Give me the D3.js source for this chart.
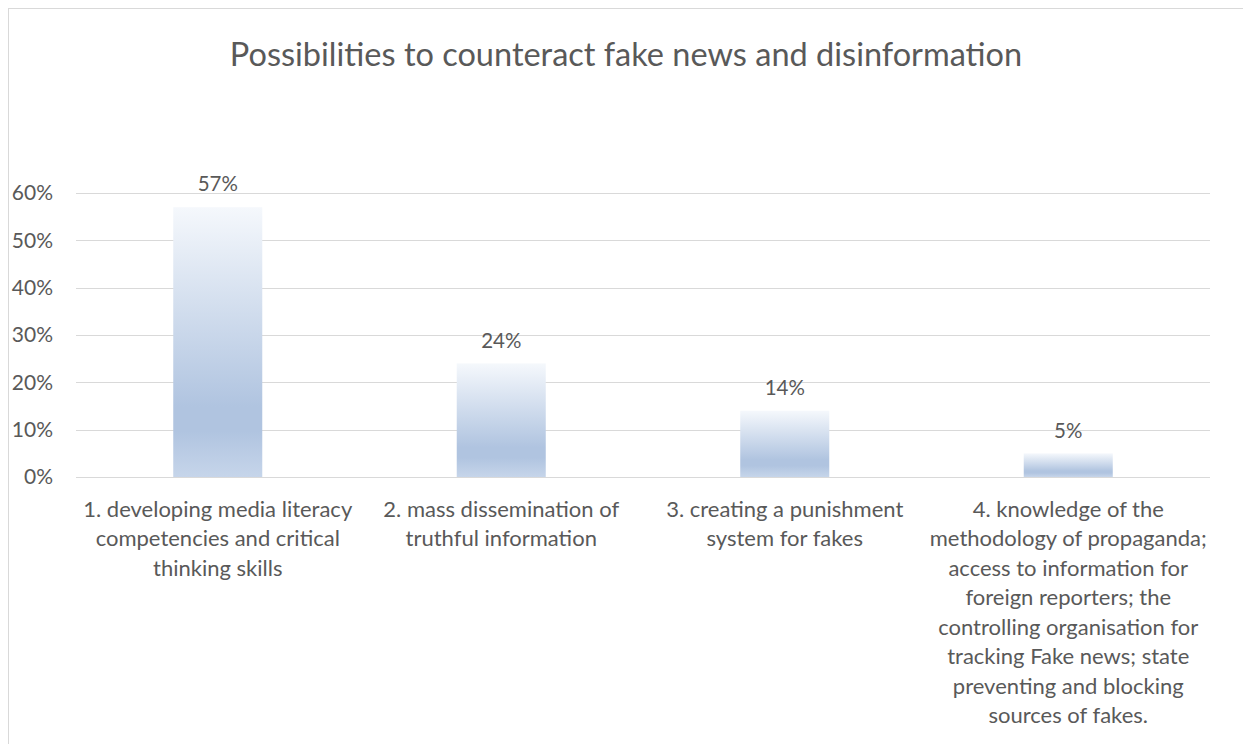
<!DOCTYPE html>
<html>
<head>
<meta charset="utf-8">
<script src="https://cdn.jsdelivr.net/npm/d3@7"></script>
<style>
  html, body { margin: 0; padding: 0; background: #fff; }
  svg { display: block; }
  text { font-family: Lato, "Open Sans", sans-serif; fill: #595959; }
</style>
</head>
<body>
<svg id="chart" width="1243" height="744"></svg>
<script>
// Survey answers, one bar per option
const categories = [
  ["1. developing media literacy", "competencies and critical", "thinking skills"],
  ["2. mass dissemination of", "truthful information"],
  ["3. creating a punishment", "system for fakes"],
  ["4. knowledge of the", "methodology of propaganda;", "access to information for",
   "foreign reporters; the", "controlling organisation for",
   "tracking Fake news; state", "preventing and blocking", "sources of fakes."]
];
const shares = [0.57, 0.24, 0.14, 0.05];
const yTicks = [0, 0.1, 0.2, 0.3, 0.4, 0.5, 0.6];
const title = "Possibilities to counteract fake news and disinformation";

const svg = d3.select("#chart");
const W = 1243, H = 744;
const plot = { left: 76, right: 1210, top: 193, bottom: 477 };

// chart area frame
svg.append("rect")
  .attr("x", 8.5).attr("y", 8.5)
  .attr("width", W + 20).attr("height", H + 20)
  .attr("fill", "#fff").attr("stroke", "#d9d9d9").attr("stroke-width", 1);

// bar fill: pale top, deepest blue low down, lightening at the base
const defs = svg.append("defs");
const grad = defs.append("linearGradient")
  .attr("id", "barFill").attr("x1", 0).attr("y1", 0).attr("x2", 0).attr("y2", 1);
[["0%", "#f5f8fc"], ["74%", "#b0c4e0"], ["83%", "#b0c4e0"], ["100%", "#c6d5ea"]]
  .forEach(([o, c]) => grad.append("stop").attr("offset", o).attr("stop-color", c));

const x = d3.scaleBand()
  .domain(d3.range(categories.length))
  .range([plot.left, plot.right])
  .paddingInner(0.686).paddingOuter(0.343);

const y = d3.scaleLinear().domain([0, 0.6]).range([plot.bottom, plot.top]);

// gridlines
svg.append("g")
  .selectAll("line")
  .data(yTicks)
  .join("line")
  .attr("x1", plot.left).attr("x2", plot.right)
  .attr("y1", d => Math.round(y(d)) + 0.5).attr("y2", d => Math.round(y(d)) + 0.5)
  .attr("stroke", "#d9d9d9").attr("stroke-width", 1);

// y axis labels
const yAxis = d3.axisLeft(y).tickValues(yTicks).tickFormat(d3.format(".0%")).tickSize(0).tickPadding(0);
const yg = svg.append("g").attr("transform", "translate(53,0)").call(yAxis);
yg.select(".domain").remove();
yg.selectAll("text").style("font-size", "21px").attr("fill", "#595959")
  .style("font-family", "Lato, 'Open Sans', sans-serif");

// bars
svg.append("g")
  .selectAll("rect")
  .data(shares)
  .join("rect")
  .attr("x", (d, i) => x(i))
  .attr("width", x.bandwidth())
  .attr("y", d => y(d))
  .attr("height", d => y(0) - y(d))
  .attr("fill", "url(#barFill)");

// value labels
svg.append("g")
  .selectAll("text")
  .data(shares)
  .join("text")
  .attr("x", (d, i) => x(i) + x.bandwidth() / 2)
  .attr("y", d => y(d) - 23)
  .attr("dy", "0.35em")
  .attr("text-anchor", "middle")
  .style("font-size", "20.5px")
  .text(d3.format(".0%"));

// category labels, one line per entry
const catG = svg.append("g")
  .selectAll("text")
  .data(categories)
  .join("text")
  .attr("text-anchor", "middle")
  .style("font-size", "22px");
catG.each(function(lines, i) {
  const t = d3.select(this);
  lines.forEach((ln, k) => {
    t.append("tspan")
      .attr("x", x(i) + x.bandwidth() / 2)
      .attr("y", 509 + k * 29.5)
      .attr("dy", "0.35em")
      .text(ln);
  });
});

// title
svg.append("text")
  .attr("x", 626).attr("y", 55).attr("dy", "0.35em")
  .attr("text-anchor", "middle")
  .style("font-size", "32.5px")
  .text(title);
</script>
</body>
</html>
